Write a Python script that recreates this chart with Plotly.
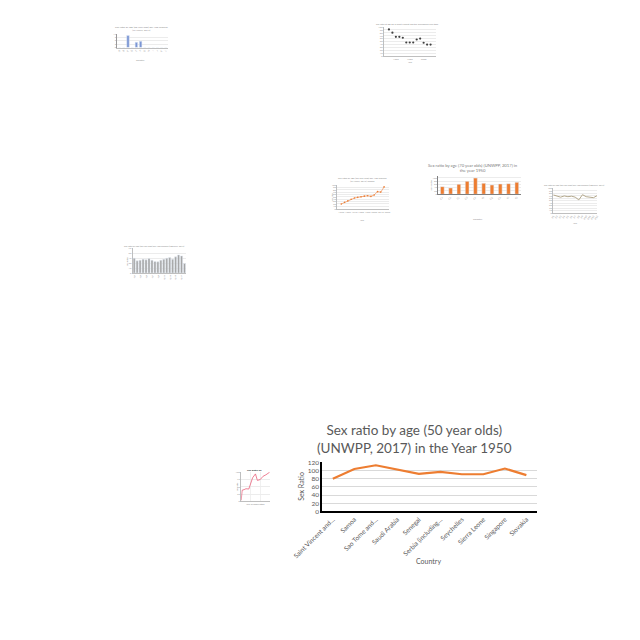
import plotly.graph_objects as go

W = H = 640

# ---------------- main chart data ----------------
countries = ["Saint Vincent and…", "Samoa", "Sao Tome and…", "Saudi Arabia", "Senegal",
             "Serbia (including…", "Seychelles", "Sierra Leone", "Singapore", "Slovakia"]
sex_ratio_50 = [80, 104, 113, 102, 92, 97, 91, 91, 105, 89]

# ---------------- thumbnail data ----------------
t1_cats = ["A", "B", "C", "D", "E", "F", "G", "H", "I", "J", "K", "L"]
t1_vals = [0, 0, 10.5, 0, 4.5, 5.4, 0, 0, 0, 0, 0, 0]

t2_years = [1950, 1955, 1960, 1965, 1970, 1975, 1980, 1985, 1990, 1995, 2000, 2005, 2010]
t2_vals = [91, 80, 66, 66, 63, 47, 47, 47, 57, 60, 46, 40, 40]

t3_years = list(range(1950, 2020, 5))
t3_vals = [20, 27, 33, 40, 45, 48, 50, 53, 55, 52, 58, 72, 70, 92]

t4_cats = ["Ca", "Cb", "Cc", "Cd", "Ce", "Cf", "Cg", "Ch", "Ci", "Cj"]
t4_vals = [46, 38, 60, 78, 98, 66, 56, 62, 64, 72]

t5_cats = ["P%d" % i for i in range(1, 14)]
t5_vals = [73, 70, 64, 69, 66, 68, 64, 53, 74, 66, 64, 62, 70]

t6_cats = ["Q%d" % i for i in range(1, 19)]
t6_vals = [45, 37, 39, 42, 40, 44, 39, 35, 34, 39, 42, 45, 47, 42, 49, 55, 52, 29]

t7_x = [0, 1, 3, 5, 8, 10, 12, 15, 17, 20, 23, 26, 30]
t7_vals = [4, 38, 40, 43, 42, 60, 80, 93, 71, 74, 85, 90, 99]

FONT = "Lato"
GRAY = "#595959"


def dom_x(a, b):
    return [a / W, b / W]


def dom_y(top, bottom):
    return [1 - bottom / H, 1 - top / H]


fig = go.Figure()
annotations = []

# ---------------- main chart ----------------
fig.add_trace(go.Scatter(x=countries, y=sex_ratio_50, mode="lines",
                         line=dict(color="#ED7D31", width=2.2), xaxis="x", yaxis="y",
                         showlegend=False, hoverinfo="skip"))

layout = dict(
    width=W, height=H, autosize=False,
    margin=dict(l=0, r=0, t=0, b=0),
    paper_bgcolor="white", plot_bgcolor="white",
    font=dict(family=FONT, color=GRAY),
    showlegend=False,
    xaxis=dict(domain=dom_x(308, 534), anchor="y", type="category", range=[-0.5, 9.5],
               tickangle=-45, tickfont=dict(size=6.5, color=GRAY), showgrid=False,
               showline=True, linecolor="black", linewidth=1.6, ticks="", fixedrange=True),
    yaxis=dict(domain=dom_y(463.5, 513), anchor="x", range=[0, 120], dtick=20,
               tickfont=dict(size=6.5, color=GRAY), gridcolor="#d9d9d9", gridwidth=0.8,
               showline=True, linecolor="black", linewidth=1.6, ticks="", zeroline=False,
               fixedrange=True),
)
annotations += [
    dict(text="Sex ratio by age (50 year olds)<br>(UNWPP, 2017) in the Year 1950",
         x=405 / W, y=1 - 440 / H, xref="paper", yref="paper", showarrow=False,
         font=dict(size=13.5, color=GRAY, family=FONT), xanchor="center", yanchor="middle"),
    dict(text="Sex Ratio", x=285 / W, y=1 - 488 / H, xref="paper", yref="paper",
         showarrow=False, textangle=-90, font=dict(size=7, color=GRAY),
         xanchor="center", yanchor="middle"),
    dict(text="Country", x=420 / W, y=1 - 563 / H, xref="paper", yref="paper",
         showarrow=False, font=dict(size=7, color=GRAY), xanchor="center", yanchor="middle"),
]

TINY = dict(size=2.5, color="#9a9a9a")


def thumb_axes(n, xd, yd, xkw=None, ykw=None):
    xa = dict(domain=xd, anchor="y%d" % n, showgrid=False, showline=True,
              linecolor="#bfbfbf", linewidth=0.6, tickfont=TINY, ticks="", fixedrange=True)
    ya = dict(domain=yd, anchor="x%d" % n, showgrid=True, gridcolor="#ececec", gridwidth=0.5,
              showline=True, linecolor="#bfbfbf", linewidth=0.6, tickfont=TINY, ticks="",
              zeroline=False, fixedrange=True)
    if xkw:
        xa.update(xkw)
    if ykw:
        ya.update(ykw)
    layout["xaxis%d" % n] = xa
    layout["yaxis%d" % n] = ya


def tiny_text(text, px, py, size=2.8, color="#8c8c8c", angle=0, bold=False):
    if bold:
        text = "<b>" + text + "</b>"
    annotations.append(dict(text=text, x=px / W, y=1 - py / H, xref="paper", yref="paper",
                            showarrow=False, textangle=angle,
                            font=dict(size=size, color=color), xanchor="center",
                            yanchor="middle"))


# T1: blue bars (top-left)
fig.add_trace(go.Bar(x=t1_cats, y=t1_vals, marker_color="#7b96d4", width=0.6,
                     xaxis="x2", yaxis="y2", hoverinfo="skip"))
thumb_axes(2, dom_x(93, 146), dom_y(30, 44),
           dict(tickangle=-45, type="category"),
           dict(range=[0, 12], dtick=3, showline=True, linecolor="#999999"))
tiny_text("Sex ratio by age (50 year olds) per 100 females<br>(UNWPP, 2017)", 119, 25, 2.6)
tiny_text("Country", 117, 57, 2.4)

# T2: scatter (top-middle)
fig.add_trace(go.Scatter(x=t2_years, y=t2_vals, mode="markers",
                         marker=dict(color="#404040", size=2.2), xaxis="x3", yaxis="y3",
                         hoverinfo="skip"))
thumb_axes(3, dom_x(373, 428), dom_y(23, 53),
           dict(range=[1942.8, 2018.2], dtick=20, tickangle=0),
           dict(range=[0, 100], dtick=10))
tiny_text("Sex ratio at age 50 in Saint Vincent and the Grenadines over time", 398, 20, 2.2)
tiny_text("Year", 400, 59, 2.2)

# T3: orange line with markers (middle)
fig.add_trace(go.Scatter(x=t3_years, y=t3_vals, mode="lines+markers",
                         line=dict(color="#f0a070", width=0.8),
                         marker=dict(color="#ED7D31", size=1.6), xaxis="x4", yaxis="y4",
                         hoverinfo="skip"))
thumb_axes(4, dom_x(324, 378), dom_y(183, 207),
           dict(range=[1944, 2022], dtick=10, tickangle=0),
           dict(range=[0, 100], dtick=10))
tiny_text("Sex ratio by age (50 year olds) per 100 females<br>(UNWPP, 2017) Samoa", 350, 177.5, 2.4)
tiny_text("Year", 350, 218, 2.2)
tiny_text("Sex ratio", 318, 195, 2.2, angle=-90)

# T4: orange bars (middle-right)
fig.add_trace(go.Bar(x=t4_cats, y=t4_vals, marker_color="#ED7D31", width=0.45,
                     xaxis="x5", yaxis="y5", hoverinfo="skip"))
thumb_axes(5, dom_x(430, 517), dom_y(174, 192.3),
           dict(tickangle=-45, type="category", linecolor="#7f7f7f", linewidth=1),
           dict(range=[0, 110], dtick=20, showline=True, linecolor="#7f7f7f"))
tiny_text("Sex ratio by age (70 year olds) (UNWPP, 2017) in<br>the year 1950", 467, 165.5, 4.2,
          color="#7a7a7a")
tiny_text("Sex Ratio", 422, 183, 2.6, angle=-90)
tiny_text("Country", 472, 217, 2.6)

# T5: grey-olive line (right)
fig.add_trace(go.Scatter(x=t5_cats, y=t5_vals, mode="lines",
                         line=dict(color="#b3a88c", width=1),
                         xaxis="x6", yaxis="y6", hoverinfo="skip"))
thumb_axes(6, dom_x(551, 597), dom_y(186.3, 211.3),
           dict(tickangle=-60, type="category"),
           dict(range=[0, 100], dtick=10))
tiny_text("Sex ratio by age (50 year olds) per 100 females (UNWPP, 2017)", 573, 183.5, 2.2)
tiny_text("Year", 574, 221, 2.2)

# T6: grey bars (left)
fig.add_trace(go.Bar(x=t6_cats, y=t6_vals, marker_color="#a5a5a5", width=0.7,
                     xaxis="x7", yaxis="y7", hoverinfo="skip"))
thumb_axes(7, dom_x(109, 165), dom_y(247, 272),
           dict(type="category", tickangle=-90),
           dict(range=[0, 75], dtick=15))
tiny_text("Sex ratio by age (50 year olds) per 100 females (UNWPP, 2017)", 132, 245.5, 2.2)
tiny_text("Sex Ratio", 103, 260, 2.2, angle=-90)

# T7: pink line (bottom-left)
fig.add_trace(go.Scatter(x=t7_x, y=t7_vals, mode="lines",
                         line=dict(color="#e8607a", width=0.8),
                         xaxis="x8", yaxis="y8", hoverinfo="skip"))
thumb_axes(8, dom_x(223, 253), dom_y(473, 503),
           dict(range=[0, 30], dtick=10, showgrid=True, gridcolor="#f0f0f0",
                showticklabels=False),
           dict(range=[0, 100], dtick=25))
tiny_text("Sex Ratio 50", 237.5, 471.5, 2.6, color="#333333", bold=True)
tiny_text("Sex ratio", 218, 488, 2.2, angle=-90)
tiny_text("Year of observation", 238, 506, 2.2)

layout["annotations"] = annotations
fig.update_layout(**layout)
fig.write_html("out.html")
